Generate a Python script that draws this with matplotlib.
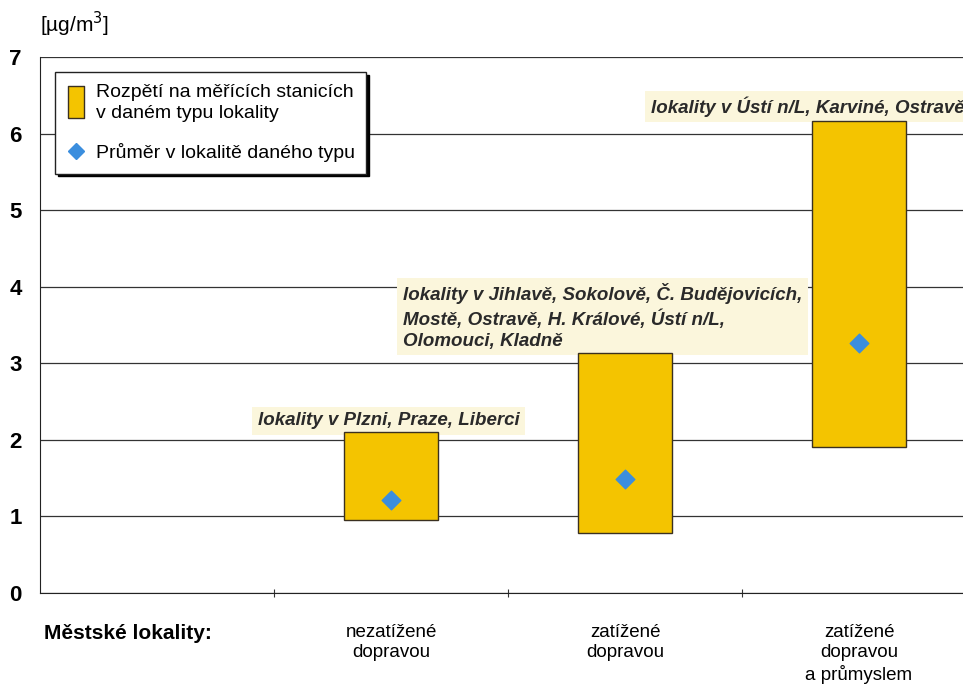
import matplotlib.pyplot as plt
from matplotlib.lines import Line2D

plt.rcParams['font.family'] = ['Liberation Sans', 'DejaVu Sans']

categories = ['Městské lokality:', 'nezatížené\ndopravou', 'zatížené\ndopravou',
              'zatížené\ndopravou\na průmyslem']
range_low = [0.95, 0.78, 1.91]
range_high = [2.10, 3.13, 6.17]
means = [1.21, 1.49, 3.26]
notes = ['lokality v Plzni, Praze, Liberci',
         'lokality v Jihlavě, Sokolově, Č. Budějovicích,\nMostě, Ostravě, H. Králové, Ústí n/L,\nOlomouci, Kladně',
         'lokality v Ústí n/L, Karviné, Ostravě']
note_pos = [(0.43, 2.14), (1.05, 3.18), (2.11, 6.22)]

bar_x = [1, 2, 3]
yellow = '#f4c400'
blue = '#3b8ede'

fig = plt.figure(figsize=(9.63, 6.86), dpi=100)
ax = fig.add_axes([40 / 963, 93 / 686, 936 / 963, 536 / 686])

heights = [h - l for h, l in zip(range_high, range_low)]
ax.bar(bar_x, heights, bottom=range_low, width=0.4, color=yellow,
       edgecolor='#3a3020', linewidth=1.0, zorder=3)
ax.scatter(bar_x, means, marker='D', s=90, color=blue, zorder=4)

for (nx, ny), txt in zip(note_pos, notes):
    ax.text(nx, ny, txt, fontsize=13.5, style='italic', fontweight='bold',
            color='#2a2a2a', ha='left', va='bottom', linespacing=1.3, zorder=2,
            bbox=dict(boxstyle='square,pad=0.3', facecolor='#fbf6dc',
                      edgecolor='none'))

ax.set_xlim(-0.5, 3.5)
ax.set_ylim(0, 7)
ax.set_yticks(range(8))
ax.set_xticks([0.5, 1.5, 2.5])
ax.set_xticklabels([])
ax.tick_params(axis='x', direction='inout', length=6, color='#333333')
ax.tick_params(axis='y', length=0, labelsize=16, pad=13)
for lab in ax.get_yticklabels():
    lab.set_fontweight('bold')
ax.grid(axis='y', color='#333333', linewidth=0.9, zorder=0)
for s in ['left', 'bottom']:
    ax.spines[s].set_color('#222222')
ax.spines['top'].set_visible(False)
ax.spines['right'].set_visible(False)

for i, c in enumerate(categories):
    if i == 0:
        ax.text(-0.485, -0.4, c, fontsize=15, fontweight='bold', ha='left',
                va='top')
    else:
        ax.text(i, -0.4, c, fontsize=13.5, ha='center', va='top',
                linespacing=1.28)

fig.text(40 / 963, 1 - 24 / 686, '[µg/m$^3$]', fontsize=15, ha='left', va='center')

rect = [(-0.48, -1), (0.48, -1), (0.48, 1), (-0.48, 1), (-0.48, -1)]
handles = [Line2D([], [], linestyle='none', marker=rect, markersize=23,
                  markerfacecolor=yellow, markeredgecolor='#3a3020'),
           Line2D([], [], linestyle='none', marker='D', markersize=8, color=blue)]
labels = ['Rozpětí na měřících stanicích\nv daném typu lokality',
          'Průměr v lokalitě daného typu']
leg = ax.legend(handles, labels, loc='upper left', bbox_to_anchor=(0.016, 0.972),
                borderaxespad=0, fontsize=14, frameon=True, fancybox=False,
                handlelength=1.0, handletextpad=0.5, borderpad=0.6,
                labelspacing=1.1, shadow={'color': 'black', 'alpha': 1})
for t in leg.get_texts():
    t.set_linespacing(1.3)
leg.get_frame().set_edgecolor('#222222')
leg.get_frame().set_linewidth(1.0)
leg.set_zorder(6)

fig.savefig('out.png', dpi=100)
